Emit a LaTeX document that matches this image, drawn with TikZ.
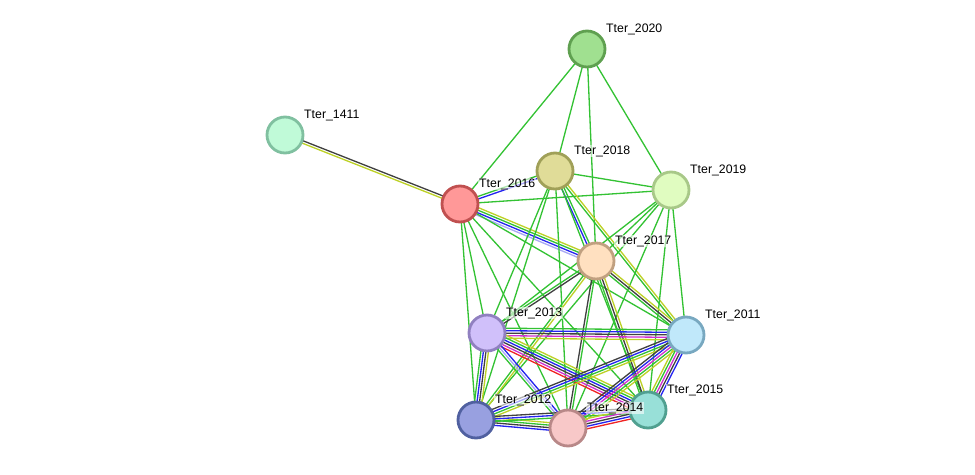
\documentclass[tikz,border=0pt]{standalone}
\usepackage{fontspec}
\setmainfont{Liberation Sans}
\usepackage{xcolor}
% evidence colours
\definecolor{sgreen}{HTML}{33C233}
\definecolor{sblack}{HTML}{404040}
\definecolor{sblue}{HTML}{2424F0}
\definecolor{syellow}{HTML}{BDD126}
\definecolor{smagenta}{HTML}{D030D0}
\definecolor{slav}{HTML}{A8A8F4}
\definecolor{sred}{HTML}{F02424}
% protein colours (fill, rim)
\definecolor{f2020}{HTML}{A0E090}\definecolor{r2020}{HTML}{5FA050}
\definecolor{f1411}{HTML}{C0FAD8}\definecolor{r1411}{HTML}{80C0A0}
\definecolor{f2018}{HTML}{E0DC98}\definecolor{r2018}{HTML}{A0A058}
\definecolor{f2016}{HTML}{FF9898}\definecolor{r2016}{HTML}{C05050}
\definecolor{f2019}{HTML}{E0FCC0}\definecolor{r2019}{HTML}{A8C888}
\definecolor{f2017}{HTML}{FFE0C0}\definecolor{r2017}{HTML}{C0A080}
\definecolor{f2013}{HTML}{D0C0FA}\definecolor{r2013}{HTML}{9080C0}
\definecolor{f2011}{HTML}{C0E8FA}\definecolor{r2011}{HTML}{78A8C0}
\definecolor{f2015}{HTML}{98E0D8}\definecolor{r2015}{HTML}{50A090}
\definecolor{f2012}{HTML}{98A0E0}\definecolor{r2012}{HTML}{5060A0}
\definecolor{f2014}{HTML}{F8C8C8}\definecolor{r2014}{HTML}{B88888}
\usetikzlibrary{calc}
\pgfdeclarelayer{edges}
\pgfsetlayers{edges,main}

\tikzset{
  prot/.style={circle, draw=r#1, fill=f#1, line width=1.6pt,
        minimum size=0.72cm, inner sep=0pt},
  lbl/.style={font=\fontsize{7}{8}\selectfont, anchor=west, inner sep=0.5pt,
        fill=white, fill opacity=0.6, text opacity=1},
  link/.style={line width=0.75pt}
}

% parallel evidence lines between two proteins
\newcommand{\strlink}[4]{%
  \foreach \c [count=\i] in {#4} {%
    \pgfmathsetmacro{\off}{(\i-1-(#3-1)/2)*0.05}%
    \draw[link, \c] ($(#1.center)!\off cm!90:(#2.center)$)
      -- ($(#2.center)!\off cm!-90:(#1.center)$);
  }%
}

\begin{document}
\begin{tikzpicture}[x=0.02cm, y=-0.02cm]
  \useasboundingbox (0,0) rectangle (975,474);

  % proteins
  \node[prot=2020] (t2020) at (587,49) {};
  \node[prot=1411] (t1411) at (285,135) {};
  \node[prot=2018] (t2018) at (555,171) {};
  \node[prot=2016] (t2016) at (460,204) {};
  \node[prot=2019] (t2019) at (671,190) {};
  \node[prot=2017] (t2017) at (596,261) {};
  \node[prot=2013] (t2013) at (487,333) {};
  \node[prot=2011] (t2011) at (686,335) {};
  \node[prot=2015] (t2015) at (648,410) {};
  \node[prot=2012] (t2012) at (476,420) {};
  \node[prot=2014] (t2014) at (568,428) {};

  % names
  \node[lbl] (l2020) at ($(t2020)+(18,-20)$) {Tter\_2020};
  \node[lbl] (l1411) at ($(t1411)+(18,-20)$) {Tter\_1411};
  \node[lbl] (l2018) at ($(t2018)+(18,-20)$) {Tter\_2018};
  \node[lbl] (l2016) at ($(t2016)+(18,-20)$) {Tter\_2016};
  \node[lbl] (l2019) at ($(t2019)+(18,-20)$) {Tter\_2019};
  \node[lbl] (l2017) at ($(t2017)+(18,-20)$) {Tter\_2017};
  \node[lbl] (l2013) at ($(t2013)+(18,-20)$) {Tter\_2013};
  \node[lbl] (l2011) at ($(t2011)+(18,-20)$) {Tter\_2011};
  \node[lbl] (l2015) at ($(t2015)+(18,-20)$) {Tter\_2015};
  \node[lbl] (l2012) at ($(t2012)+(18,-20)$) {Tter\_2012};
  \node[lbl] (l2014) at ($(t2014)+(18,-20)$) {Tter\_2014};

  \begin{pgfonlayer}{edges}
    \strlink{t1411}{t2016}{2}{syellow,sblack}
    % Tter_2020
    \foreach \b in {t2016,t2018,t2017,t2019}
      {\strlink{t2020}{\b}{1}{sgreen}}
    % Tter_2016
    \strlink{t2016}{t2018}{2}{sblue,sgreen}
    \strlink{t2016}{t2017}{4}{slav,sblue,sgreen,syellow}
    \foreach \b in {t2019,t2013,t2012,t2014,t2015,t2011}
      {\strlink{t2016}{\b}{1}{sgreen}}
    % Tter_2018
    \strlink{t2018}{t2017}{2}{sblue,sgreen}
    \strlink{t2018}{t2011}{2}{sgreen,syellow}
    \foreach \b in {t2019,t2013,t2012,t2014,t2015}
      {\strlink{t2018}{\b}{1}{sgreen}}
    % Tter_2019
    \foreach \b in {t2017,t2013,t2012,t2014,t2015,t2011}
      {\strlink{t2019}{\b}{1}{sgreen}}
    % Tter_2017
    \strlink{t2017}{t2013}{2}{sgreen,sblack}
    \strlink{t2017}{t2012}{2}{sgreen,syellow}
    \strlink{t2017}{t2014}{2}{sblack,sgreen}
    \strlink{t2017}{t2015}{3}{sgreen,sblack,syellow}
    \strlink{t2017}{t2011}{3}{sgreen,sblack,syellow}
    % Tter_2013
    \strlink{t2013}{t2011}{5}{syellow,smagenta,sblack,sblue,sgreen}
    \strlink{t2013}{t2015}{6}{sred,smagenta,sblack,sblue,sgreen,syellow}
    \strlink{t2013}{t2014}{3}{sgreen,slav,sblue}
    \strlink{t2013}{t2012}{4}{sgreen,sblue,sblack,syellow}
    % Tter_2011
    \strlink{t2011}{t2012}{4}{sblack,sblue,sgreen,syellow}
    \strlink{t2011}{t2014}{5}{sblack,sblue,smagenta,sgreen,syellow}
    \strlink{t2011}{t2015}{5}{syellow,sgreen,smagenta,sblack,sblue}
    % Tter_2012
    \strlink{t2012}{t2014}{4}{sblue,sblack,sgreen,syellow}
    \strlink{t2012}{t2015}{3}{sgreen,sblue,sblack}
    % Tter_2014
    \strlink{t2014}{t2015}{5}{sred,sblue,sblack,smagenta,syellow}
  \end{pgfonlayer}
\end{tikzpicture}
\end{document}
